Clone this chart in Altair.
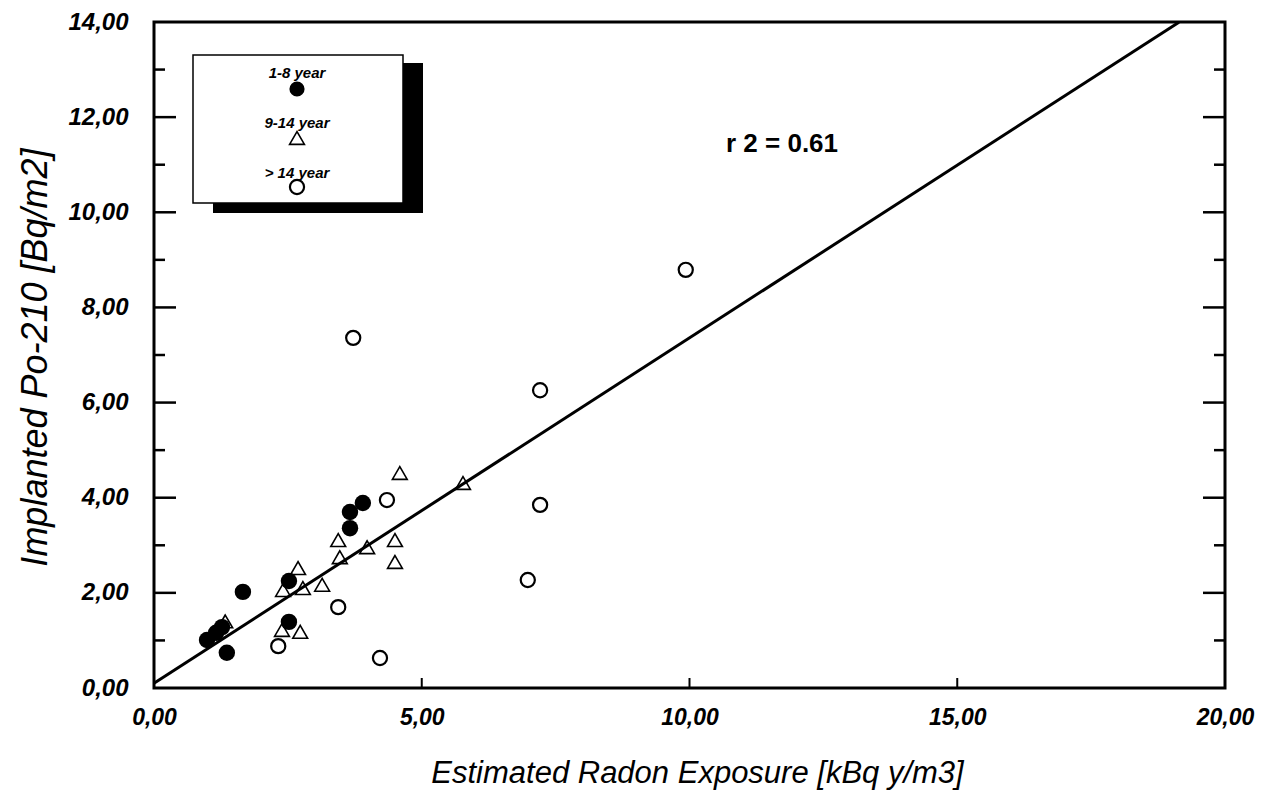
import altair as alt
import pandas as pd

# ---- data ----
young_x = [0.99, 1.16, 1.27, 1.36, 1.66, 2.52, 2.52, 3.66, 3.66, 3.90]
young_y = [1.01, 1.16, 1.28, 0.74, 2.02, 2.25, 1.39, 3.36, 3.70, 3.89]

mid_x = [1.33, 4.59, 5.77, 3.44, 3.47, 3.98, 4.50, 4.50, 2.69, 2.41, 2.78, 3.14, 2.39, 2.73]
mid_y = [1.40, 4.52, 4.31, 3.11, 2.75, 2.96, 3.11, 2.65, 2.52, 2.06, 2.10, 2.17, 1.22, 1.18]

old_x = [4.35, 3.44, 2.32, 4.22, 3.72, 7.21, 9.93, 7.21, 6.98]
old_y = [3.95, 1.70, 0.88, 0.63, 7.36, 6.26, 8.79, 3.85, 2.27]

fit_slope = 0.726
fit_intercept = 0.10
fit_x = [0.0, 19.14]
r2_text = "r 2 = 0.61"

group_labels = ["1-8 year", "9-14 year", "> 14 year"]

x_ticks = [0, 5, 10, 15, 20]
y_ticks = [0, 2, 4, 6, 8, 10, 12, 14]
y_minor = [1, 3, 5, 7, 9, 11, 13]
y_major_inner = [2, 4, 6, 8, 10, 12]
x_inner = [5, 10, 15]

W, H = 1071, 666
FONT = "Liberation Sans"

xs = alt.Scale(domain=[0, 20], nice=False, zero=False)
ys = alt.Scale(domain=[0, 14], nice=False, zero=False)
fmt = "replace(format(datum.value, '.2f'), '.', ',')"

XTITLE = "Estimated Radon Exposure [kBq y/m3]"
YTITLE = "Implanted Po-210 [Bq/m2]"

xaxis = alt.Axis(values=x_ticks, labelExpr=fmt, labelFont=FONT, labelFontSize=23,
                 labelFontStyle="italic", labelFontWeight="bold", labelColor="black",
                 labelPadding=18, labelFlush=False, labelOverlap=False,
                 domain=False, ticks=False, grid=False,
                 titleFont=FONT,
                 titleFontSize=31, titleFontStyle="italic", titleFontWeight="normal",
                 titleColor="black", titleX=543, titleY=94, titleBaseline="alphabetic",
                 titleAlign="center")
yaxis = alt.Axis(values=y_ticks, labelExpr=fmt, labelFont=FONT, labelFontSize=24,
                 labelFontStyle="italic", labelFontWeight="bold", labelColor="black",
                 labelPadding=26, labelFlush=False, labelOverlap=False,
                 domain=False, ticks=False, grid=False,
                 titleFont=FONT, titleFontSize=36,
                 titleFontStyle="italic", titleFontWeight="normal", titleColor="black",
                 titleAngle=270, titleX=-108, titleY=335, titleBaseline="alphabetic",
                 titleAlign="center")

young = pd.DataFrame({"x": young_x, "y": young_y})
mid = pd.DataFrame({"x": mid_x, "y": mid_y})
old = pd.DataFrame({"x": old_x, "y": old_y})
fit = pd.DataFrame({"x": fit_x})

def X(field):
    return alt.X(field, scale=xs, axis=xaxis, title=XTITLE)

def Y(field):
    return alt.Y(field, scale=ys, axis=yaxis, title=YTITLE)

base_enc = dict(x=X("x:Q"), y=Y("y:Q"))

fit_line = alt.Chart(fit).transform_calculate(
    y=f"{fit_intercept} + {fit_slope} * datum.x"
).mark_line(color="black", strokeWidth=3).encode(**base_enc)

mid_pts = alt.Chart(mid).mark_point(shape="triangle-up", size=220, filled=False,
                                    color="black", strokeWidth=1.6, opacity=1).encode(**base_enc)
old_pts = alt.Chart(old).mark_point(shape="circle", size=200, filled=False,
                                    color="black", strokeWidth=2.2, opacity=1).encode(**base_enc)
young_pts = alt.Chart(young).mark_point(shape="circle", size=270, filled=True,
                                        color="black", opacity=1).encode(**base_enc)

# inward ticks
maj = pd.DataFrame({"v": y_major_inner})
mnr = pd.DataFrame({"v": y_minor})
xt = pd.DataFrame({"v": x_inner})
yv = Y("v:Q")
ticks = [
    alt.Chart(maj).mark_rule(color="black", strokeWidth=2.5).encode(y=yv, x=alt.value(0), x2=alt.value(22)),
    alt.Chart(mnr).mark_rule(color="black", strokeWidth=2.5).encode(y=yv, x=alt.value(0), x2=alt.value(11)),
    alt.Chart(maj).mark_rule(color="black", strokeWidth=2.5).encode(y=yv, x=alt.value(W - 22), x2=alt.value(W)),
    alt.Chart(mnr).mark_rule(color="black", strokeWidth=2.5).encode(y=yv, x=alt.value(W - 11), x2=alt.value(W)),
    alt.Chart(xt).mark_rule(color="black", strokeWidth=2).encode(
        x=X("v:Q"), y=alt.value(H), y2=alt.value(H - 10)),
]

# legend box with shadow
one = pd.DataFrame({"k": [0]})
shadow = alt.Chart(one).mark_rect(color="black").encode(
    x=alt.value(59), x2=alt.value(269), y=alt.value(41), y2=alt.value(191))
box = alt.Chart(one).mark_rect(fill="white", stroke="black", strokeWidth=1.5).encode(
    x=alt.value(39), x2=alt.value(249), y=alt.value(33), y2=alt.value(181))

leg = []
leg_marks = [
    dict(shape="circle", filled=True, size=230, strokeWidth=1),
    dict(shape="triangle-up", filled=False, size=220, strokeWidth=1.6),
    dict(shape="circle", filled=False, size=200, strokeWidth=2.2),
]
text_y = [51, 101, 151]
sym_y = [67, 116, 165]
for lab, mk, ty, sy in zip(group_labels, leg_marks, text_y, sym_y):
    d = pd.DataFrame({"t": [lab]})
    leg.append(alt.Chart(d).mark_text(font=FONT, fontSize=15, fontStyle="italic",
                                      fontWeight="bold", color="black", align="center",
                                      baseline="middle").encode(
        text="t:N", x=alt.value(143), y=alt.value(ty)))
    leg.append(alt.Chart(d).mark_point(color="black", opacity=1, **mk).encode(
        x=alt.value(143), y=alt.value(sy)))

r2 = alt.Chart(pd.DataFrame({"t": [r2_text]})).mark_text(
    font=FONT, fontSize=26, fontWeight="bold", color="black", align="center",
    baseline="middle").encode(text="t:N", x=alt.value(628), y=alt.value(122))

chart = alt.layer(
    fit_line, *ticks, mid_pts, old_pts, young_pts, shadow, box, *leg, r2
).properties(
    width=W, height=H,
    background="white",
    autosize=alt.AutoSizeParams(type="none"),
    padding={"left": 146, "top": 14, "right": 30, "bottom": 112},
).configure_view(stroke="black", strokeWidth=3)

chart.save("out.html", embed_options={"renderer": "svg", "actions": False})
